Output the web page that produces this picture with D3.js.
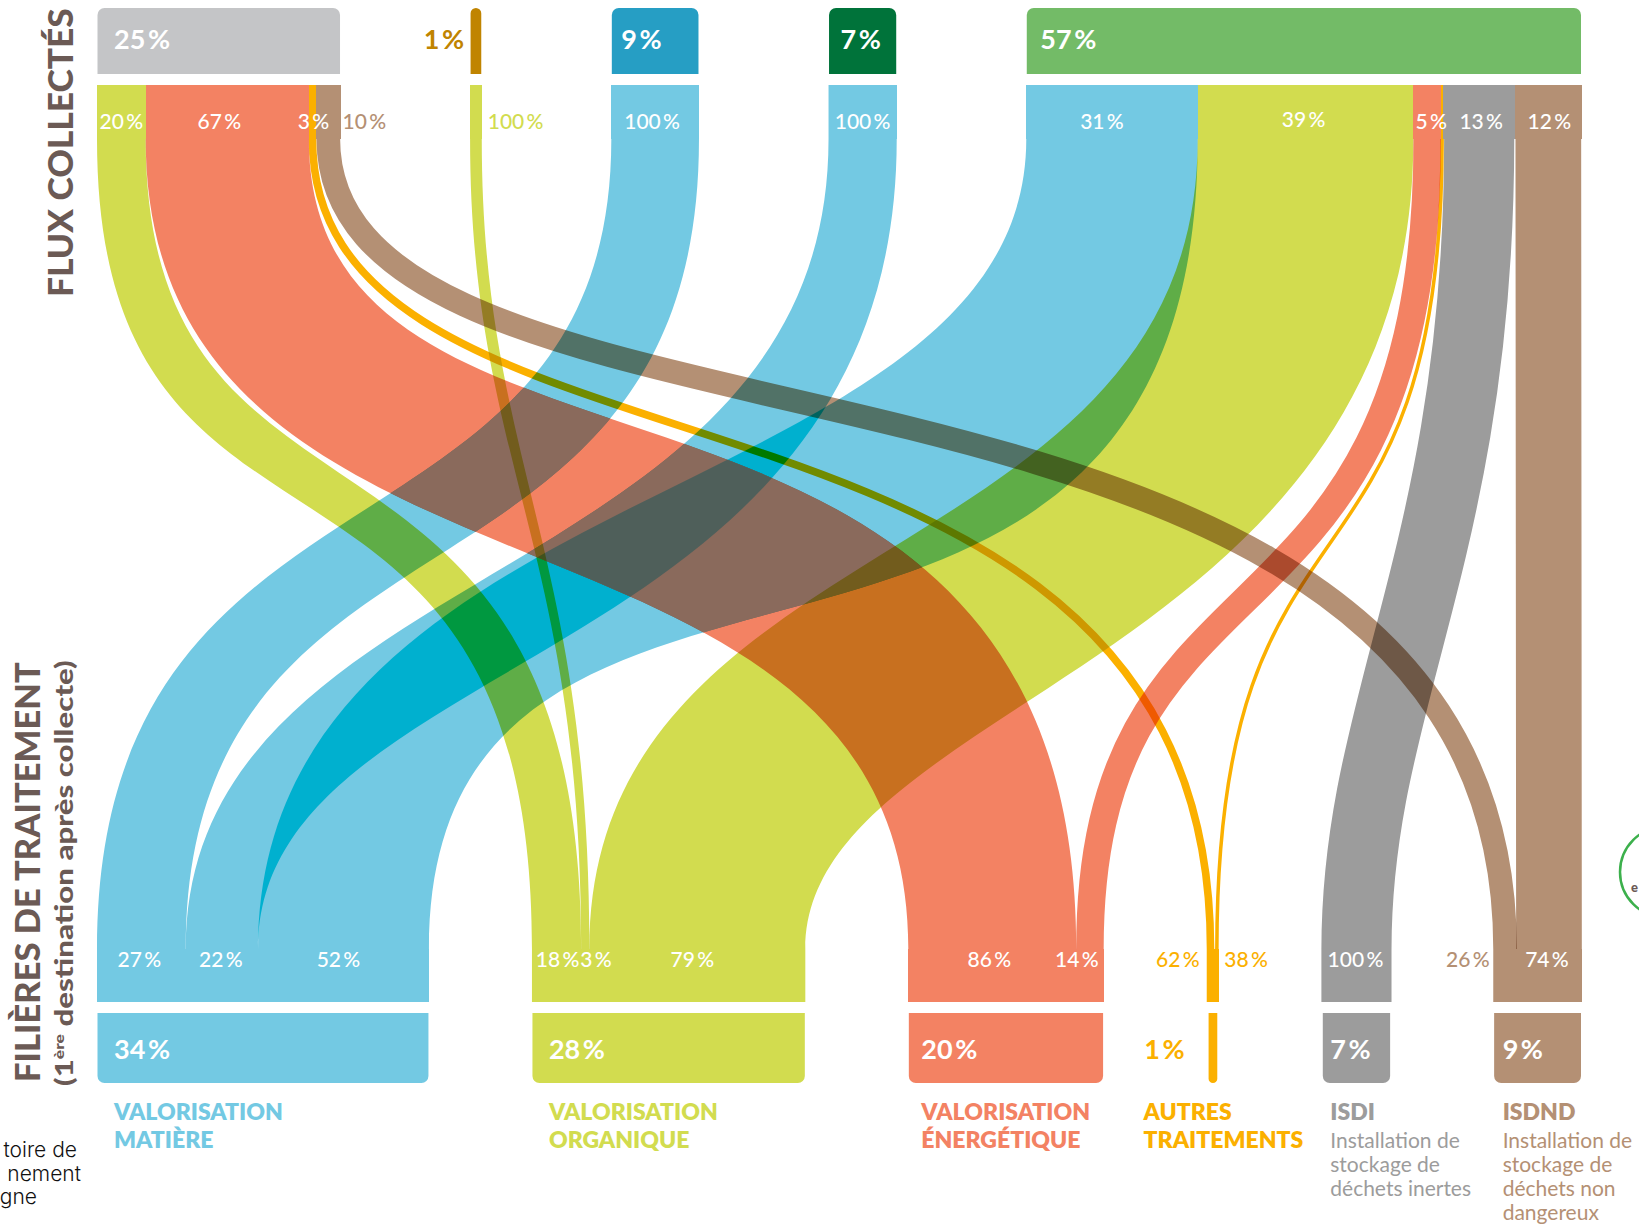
<!DOCTYPE html>
<html><head><meta charset="utf-8">
<script src="https://cdn.jsdelivr.net/npm/d3@7"></script>
<style>html,body{margin:0;background:#fff}svg{display:block}text{font-family:Lato,sans-serif}</style>
</head><body><div id="c"></div>
<script>
// ---------- data ----------
const sourceLabels = ["25 %","1 %","9 %","7 %","57 %"];
const sourceValues = [25,1.2,9,7,57];
const sourceColors = ["#C4C5C7","#C08400","#269EC4","#00733A","#73BB67"];
const targetLabels = ["34 %","28 %","20 %","1 %","7 %","9 %"];
const targetValues = [34,28,20,1.3,7,9];
const targetColors = ["#73C9E3","#D2DC4F","#F38263","#FBB000","#9C9C9C","#B49074"];
const targetTitles = [["VALORISATION","MATIÈRE"],["VALORISATION","ORGANIQUE"],["VALORISATION","ÉNERGÉTIQUE"],["AUTRES","TRAITEMENTS"],["ISDI"],["ISDND"]];
const targetNotes = [[],[],[],[],["Installation de","stockage de","déchets inertes"],["Installation de","stockage de","déchets non","dangereux"]];
const flowSource = [0,0,0,0,1,2,3,4,4,4,4,4,4];
const flowTarget = [1,2,3,5,1,0,0,0,1,2,3,4,5];
const flowSourceShare = [20,67,3,10,100,100,100,31,39,5,0.4,13,12];
const flowTargetShare = [18,86,62,26,3,27,22,52,79,14,38,100,74];
// ---------- layout ----------
const W=1639,H=1225;
const left=97,right=1581.5,topGap=13.3,botGap=10.55;
const rowY={nodeTop:8,nodeBottom:74,stemTop:85,stemBottom:139,footTop:949,footBottom:1002,tNodeTop:1013,tNodeBottom:1083};
const topScale=d3.scaleLinear().domain([0,d3.sum(sourceValues)+4*topGap]).range([left,right]);
const botScale=d3.scaleLinear().domain([0,d3.sum(targetValues)+5*botGap]).range([left,right]);
// curve handles as fractions of the span: [left a, left b, right a, right b] for wide ribbons, [a, b] for thin ribbons of constant width
const ribbonShape=[[.595,.705,.54,.72],[.63,.6,.5,.82],[.47,.77],[.447,.823],[.4,.5,.4,.5],[.545,.635,.61,.58],[.56,.49,.66,.375],[.456,.594,.83,.64],[.54,.53,.648,.309],[.66,.52],[.6,.6],[.51,.31],[.5,.5]];

const svg=d3.select("#c").append("svg").attr("width",W).attr("height",H);
const defs=svg.append("defs");

function positions(values,scale,gap,idxKey,shares){
  const out=new Array(flowSource.length); let acc=0;
  values.forEach((v,n)=>{
    const idx=d3.range(flowSource.length).filter(i=>idxKey[i]===n);
    const tot=d3.sum(idx,i=>shares[i]); let c=acc;
    idx.forEach(i=>{const w=v*shares[i]/tot; out[i]={x0:scale(c),x1:scale(c+w)}; c+=w;});
    acc+=v+gap;
  });
  return out;
}
const topPos=positions(sourceValues,topScale,topGap,flowSource,flowSourceShare);
const botPos=positions(targetValues,botScale,botGap,flowTarget,flowTargetShare);
const span=rowY.footTop-rowY.stemBottom;
const isThin=i=>ribbonShape[i].length===2;
function curveDown(p,xa,xb,a,b){p.bezierCurveTo(xa,rowY.stemBottom+a*span,xb,rowY.footTop-b*span,xb,rowY.footTop);}
function curveUp(p,xb,xa,a,b){p.bezierCurveTo(xb,rowY.footTop-b*span,xa,rowY.stemBottom+a*span,xa,rowY.stemBottom);}
function flowPath(i){
  const s=ribbonShape[i],t=topPos[i],u=botPos[i],p=d3.path();
  if(isThin(i)){
    const xa=(t.x0+t.x1)/2,xb=(u.x0+u.x1)/2;
    p.moveTo(xa,rowY.stemTop);p.lineTo(xa,rowY.stemBottom);curveDown(p,xa,xb,s[0],s[1]);p.lineTo(xb,rowY.footBottom);
  }else{
    p.moveTo(t.x0,rowY.stemTop);p.lineTo(t.x0,rowY.stemBottom);curveDown(p,t.x0,u.x0,s[0],s[1]);p.lineTo(u.x0,rowY.footBottom);
    p.lineTo(u.x1,rowY.footBottom);p.lineTo(u.x1,rowY.footTop);curveUp(p,u.x1,t.x1,s[2],s[3]);p.lineTo(t.x1,rowY.stemTop);p.closePath();
  }
  return p.toString();
}
const flowWidth=i=>((topPos[i].x1-topPos[i].x0)+(botPos[i].x1-botPos[i].x0))/2;
const flowColor=i=>targetColors[flowTarget[i]];
const drawOn=(g,i,col)=>{
  const e=g.append("path").attr("d",flowPath(i));
  if(isThin(i)) e.attr("fill","none").attr("stroke",col).attr("stroke-width",flowWidth(i));
  else e.attr("fill",col);
  return e;
};
const blue=[5,6,7];
function addMask(id,list,inner){
  const m=defs.append("mask").attr("id",id).attr("maskUnits","userSpaceOnUse").attr("x",0).attr("y",0).attr("width",W).attr("height",H);
  const g=m.append("g"); if(inner) g.attr("mask",`url(#${inner})`);
  list.forEach(i=>drawOn(g,i,"#fff"));
}
addMask("mBlueAll",blue);
addMask("m31",[7]);
addMask("m7in31",[6],"m31");

const flows=svg.append("g").style("isolation","isolate");
blue.forEach(i=>drawOn(flows,i,flowColor(i)));
drawOn(flows,6,"#00B0CF").attr("mask","url(#m31)");
drawOn(flows,1,flowColor(1)).style("mix-blend-mode","multiply");
drawOn(flows,1,"#8A6A5C").attr("mask","url(#mBlueAll)");
drawOn(flows,1,"#4F5F5A").attr("mask","url(#m7in31)");
d3.range(flowSource.length).filter(i=>!blue.includes(i)&&i!==1).forEach(i=>drawOn(flows,i,flowColor(i)).style("mix-blend-mode","multiply"));

// straight stems at both ends of every ribbon
const stems=svg.append("g").attr("shape-rendering","crispEdges");
d3.range(flowSource.length).forEach(i=>{
  stems.append("rect").attr("x",topPos[i].x0).attr("y",rowY.stemTop).attr("width",topPos[i].x1-topPos[i].x0).attr("height",rowY.stemBottom-rowY.stemTop).attr("fill",flowColor(i));
  stems.append("rect").attr("x",botPos[i].x0).attr("y",rowY.footTop).attr("width",botPos[i].x1-botPos[i].x0).attr("height",rowY.footBottom-rowY.footTop).attr("fill",flowColor(i));
});
// nodes with rounded caps
function capped(x0,x1,y0,y1,atTop){
  const r=Math.min(7,(x1-x0)/2),p=d3.path();
  if(atTop){p.moveTo(x0,y1);p.lineTo(x0,y0+r);p.arcTo(x0,y0,x0+r,y0,r);p.lineTo(x1-r,y0);p.arcTo(x1,y0,x1,y0+r,r);p.lineTo(x1,y1);}
  else{p.moveTo(x0,y0);p.lineTo(x0,y1-r);p.arcTo(x0,y1,x0+r,y1,r);p.lineTo(x1-r,y1);p.arcTo(x1,y1,x1,y1-r,r);p.lineTo(x1,y0);}
  p.closePath();return p.toString();
}
const nodeG=svg.append("g");
const nodeText=svg.append("g").attr("font-weight",700).attr("font-size",27).attr("word-spacing",-4);
const label=(g,x,y,t,col,anchor)=>g.append("text").attr("x",x).attr("y",y).attr("fill",col).attr("text-anchor",anchor||"start").text(t);
const srcDx=[17,null,10,12,14], tgtDx=[17,17,13,null,8,9];
let acc=0;
sourceValues.forEach((v,i)=>{
  const x0=topScale(acc),x1=topScale(acc+v);
  nodeG.append("path").attr("d",capped(x0+.5,x1-.5,rowY.nodeTop,rowY.nodeBottom,true)).attr("fill",sourceColors[i]);
  if(srcDx[i]===null) label(nodeText,x0-6,49,sourceLabels[i],sourceColors[i],"end");
  else label(nodeText,x0+srcDx[i],49,sourceLabels[i],"#fff");
  acc+=v+topGap;
});
acc=0;
const titleG=svg.append("g").attr("font-weight",800).attr("font-size",23);
const noteG=svg.append("g").attr("font-size",21);
targetValues.forEach((v,i)=>{
  const x0=botScale(acc),x1=botScale(acc+v);
  const inset=v<2?2:.5;
  nodeG.append("path").attr("d",capped(x0+inset,x1-inset,rowY.tNodeTop,rowY.tNodeBottom,false)).attr("fill",targetColors[i]);
  let tx;
  if(tgtDx[i]===null){tx=x0-63; label(nodeText,x0-22,1059,targetLabels[i],targetColors[i],"end");}
  else {tx=x0+tgtDx[i]; label(nodeText,tx,1059,targetLabels[i],"#fff");}
  targetTitles[i].forEach((t,k)=>label(titleG,tx,1120+k*28,t,targetColors[i]));
  targetNotes[i].forEach((t,k)=>label(noteG,tx,1148+k*24,t,targetColors[i]));
  acc+=v+botGap;
});
// flow share labels
const shareG=svg.append("g").attr("font-size",21).attr("font-weight",500).attr("word-spacing",-3);
const topLabelRule=[{dx:0},{dx:-8},{dx:1},{out:"r",x:2},{out:"r",x:6},{dx:-3},{dx:0},{dx:-10},{dx:-2,dy:-2},{dx:4},null,{dx:2},{dx:1}];
const botLabelRule=[{dx:1},{dx:-3},{out:"l",x:-7},{out:"l",x:-4},{out:"w",x:-9},{dx:-2},{dx:-1},{dx:-5},{dx:-5},{dx:-13},{out:"r",x:5},{dx:-1},{dx:-2}];
const pct=v=>`${v} %`;
flowSource.forEach((s,i)=>{
  const col=flowColor(i);
  const place=(pos,rule,val,y)=>{
    if(!rule) return;
    if(rule.out==="r") label(shareG,pos.x1+rule.x,y,pct(val),col);
    else if(rule.out==="w") label(shareG,pos.x1+rule.x,y,pct(val),"#fff");
    else if(rule.out==="l") label(shareG,pos.x0+rule.x,y,pct(val),col,"end");
    else label(shareG,(pos.x0+pos.x1)/2+rule.dx,y+(rule.dy||0),pct(val),"#fff","middle");
  };
  place(topPos[i],topLabelRule[i],flowSourceShare[i],129);
  place(botPos[i],botLabelRule[i],flowTargetShare[i],967);
});
// axis titles, stretched to the length they have in the picture
const axisCol="#6B5A55";
const vt=(x,y,size,weight,len,fill)=>{
  const t=svg.append("text").attr("fill",axisCol).attr("font-size",size).attr("font-weight",weight);
  fill(t);
  const sx=len/t.node().getComputedTextLength();
  t.attr("transform",`translate(${x},${y}) rotate(-90) scale(${sx},1)`);
};
vt(73,297,34,900,289,t=>t.text("FLUX COLLECTÉS"));
vt(39.5,1082,34,900,420,t=>t.text("FILIÈRES DE TRAITEMENT"));
vt(73,1086,25,900,426,t=>{
  t.append("tspan").text("(1");
  t.append("tspan").attr("font-size",14).attr("dy",-9).text("ère");
  t.append("tspan").attr("dy",9).text(" destination après collecte)");
});
// cropped elements at the edges of the picture
const edge=svg.append("g").attr("font-size",21).attr("fill","#111").attr("text-anchor","end").style("font-family","Inter").attr("font-weight",300);
[["toire de",77,1157],["nement",81,1181],["gne",37,1204]].forEach(d=>edge.append("text").attr("x",d[1]).attr("y",d[2]).style("font-family","Inter").text(d[0]));
svg.append("circle").attr("cx",1665.5).attr("cy",872).attr("r",45.5).attr("fill","none").attr("stroke","#3CB04C").attr("stroke-width",2.5);
svg.append("text").attr("x",1631).attr("y",892).attr("font-size",13).attr("font-weight",900).attr("fill",axisCol).text("e");
</script></body></html>
